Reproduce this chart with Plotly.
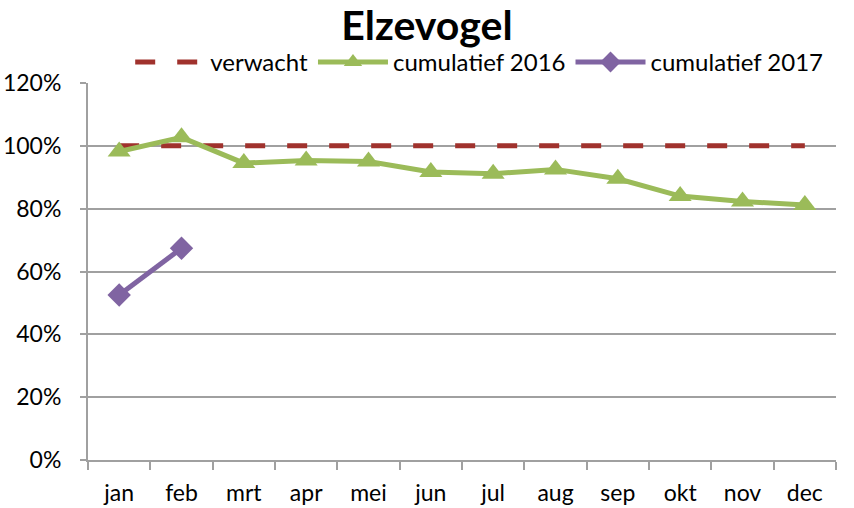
import plotly.graph_objects as go

months = ["jan", "feb", "mrt", "apr", "mei", "jun", "jul", "aug", "sep", "okt", "nov", "dec"]
verwacht = [1.0] * 12
cum2016 = [0.982, 1.027, 0.945, 0.953, 0.950, 0.917, 0.911, 0.925, 0.895, 0.840, 0.823, 0.812]
cum2017 = [0.525, 0.674]

FONT = "Lato"

fig = go.Figure()
fig.add_trace(go.Scatter(
    x=months, y=verwacht, name="verwacht", mode="lines",
    line=dict(color="#A0322D", width=5, dash="20px,22px"),
))
fig.add_trace(go.Scatter(
    x=months, y=cum2016, name="cumulatief 2016", mode="lines+markers",
    line=dict(color="#9BBB59", width=5),
    marker=dict(symbol="triangle-up", size=20, color="#9BBB59"),
))
fig.add_trace(go.Scatter(
    x=months[:2], y=cum2017, name="cumulatief 2017", mode="lines+markers",
    line=dict(color="#8064A2", width=5),
    marker=dict(symbol="diamond", size=18, color="#8064A2"),
))

fig.update_layout(
    width=854, height=508,
    margin=dict(l=88, r=18, t=83, b=48, autoexpand=False),
    paper_bgcolor="white", plot_bgcolor="white",
    font=dict(family=FONT, size=23, color="black"),
    title=dict(text="<b>Elzevogel</b>", x=0.5, xanchor="center", y=0.950, yanchor="middle",
               font=dict(family=FONT, size=41, color="black")),
    legend=dict(orientation="h", x=0.523, xanchor="center", y=0.995, yanchor="bottom",
                font=dict(family=FONT, size=24), itemwidth=70, tracegroupgap=0,
                bgcolor="rgba(0,0,0,0)"),
    showlegend=True,
)
fig.update_xaxes(
    type="category", showline=True, linecolor="#A0A0A0", linewidth=2,
    ticks="outside", tickson="boundaries", ticklen=8, tickcolor="#A0A0A0", tickwidth=1.5,
    showgrid=False, tickfont=dict(family=FONT, size=23), range=[-0.5, 11.5],
    ticklabelstandoff=11,
)
fig.update_yaxes(
    range=[0, 1.2], dtick=0.2, tickformat=".0%",
    showline=True, linecolor="#A0A0A0", linewidth=2,
    ticks="outside", ticklen=6, tickcolor="#A0A0A0", tickwidth=1.5,
    showgrid=True, gridcolor="#A0A0A0", gridwidth=2, zeroline=False,
    tickfont=dict(family=FONT, size=23), ticklabelstandoff=14,
)

fig.write_html("out.html", config={"displayModeBar": False},
               post_script="document.body.style.margin='0px';")
